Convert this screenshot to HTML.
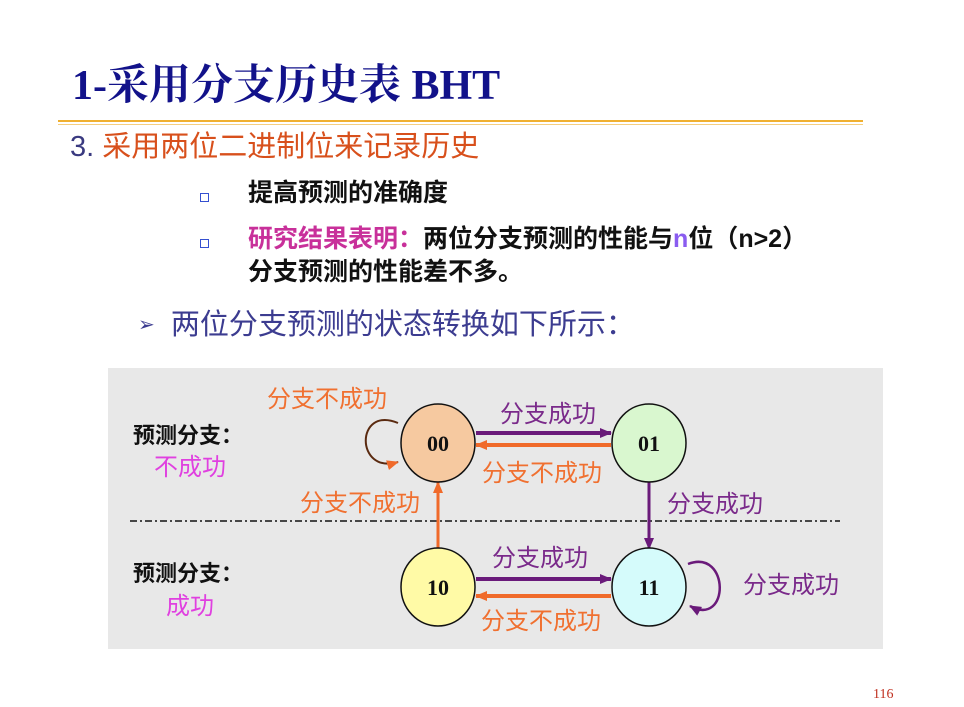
<!DOCTYPE html>
<html><head><meta charset="utf-8"><style>
body{margin:0;width:964px;height:707px;background:#fff;position:relative;overflow:hidden;font-family:"Liberation Sans","Noto Sans CJK SC",sans-serif}
.a{position:absolute;white-space:nowrap;line-height:1}
.t{left:72px;top:52px;font:bold 42px "Liberation Serif","Noto Serif CJK SC",serif;color:#12128a}
.sq{display:inline-block;width:7px;height:7px;border:1.5px solid #3550d0;}
</style></head><body>
<div class="a t">1-采用分支历史表 BHT</div>
<div class="a" style="left:58px;top:120px;width:805px;height:2px;background:#f0b030"></div>
<div class="a" style="left:58px;top:124px;width:805px;height:1px;background:#f5cf80"></div>
<div class="a" style="left:70px;top:133px;font-size:29px;color:#d8501c"><span style="color:#3a3a80">3.</span> 采用两位二进制位来记录历史</div>
<div class="a" style="left:200px;top:190px"><span class="sq"></span></div>
<div class="a" style="left:248px;top:181px;font-size:25px;font-weight:bold;color:#111">提高预测的准确度</div>
<div class="a" style="left:200px;top:236px"><span class="sq"></span></div>
<div class="a" style="left:248px;top:227px;font-size:25px;font-weight:bold;color:#111"><span style="color:#c8309a">研究结果表明：</span>两位分支预测的性能与<span style="color:#8a5cf0">n</span>位（n&gt;2）</div>
<div class="a" style="left:248px;top:260px;font-size:25px;font-weight:bold;color:#111">分支预测的性能差不多。</div>
<div class="a" style="left:138px;top:311px;font-size:29px;color:#3c3c90"><span style="font-size:20px;position:relative;top:-3px">➢</span>&nbsp; 两位分支预测的状态转换如下所示：</div>
<svg class="a" style="left:0;top:0" width="964" height="707">
<defs>
<marker id="p" markerWidth="12" markerHeight="10" refX="11" refY="5" orient="auto" markerUnits="userSpaceOnUse"><path d="M0,0L12,5L0,10z" fill="#6a1a7a"/></marker>
<marker id="o" markerWidth="12" markerHeight="10" refX="11" refY="5" orient="auto" markerUnits="userSpaceOnUse"><path d="M0,0L12,5L0,10z" fill="#f06a2a"/></marker>
</defs>
<rect x="108" y="368" width="775" height="281" fill="#e8e8e8"/>
<line x1="130" y1="521" x2="840" y2="521" stroke="#111" stroke-width="1.5" stroke-dasharray="7,3,2,3"/>
<g stroke="#6a1a7a" stroke-width="4" fill="none">
<line x1="476" y1="433" x2="611" y2="433" marker-end="url(#p)"/>
<line x1="476" y1="579" x2="611" y2="579" marker-end="url(#p)"/>
<line x1="649" y1="482" x2="649" y2="549" stroke-width="3" marker-end="url(#p)"/>
<path d="M688,564 C730,548 730,628 690,606" stroke-width="2.5" marker-end="url(#p)"/>
</g>
<g stroke="#f06a2a" stroke-width="4" fill="none">
<line x1="611" y1="445" x2="476" y2="445" marker-end="url(#o)"/>
<line x1="611" y1="596" x2="476" y2="596" marker-end="url(#o)"/>
<line x1="438" y1="549" x2="438" y2="482" stroke-width="3" marker-end="url(#o)"/>
</g>
<path d="M398,423 C355,405 355,475 398,462" stroke="#5a2a10" stroke-width="2" fill="none" marker-end="url(#o)"/>
<g stroke="#111" stroke-width="1.5">
<ellipse cx="438" cy="443" rx="37" ry="39" fill="#f6c9a0"/>
<ellipse cx="649" cy="443" rx="37" ry="39" fill="#d9f7cf"/>
<ellipse cx="438" cy="587" rx="37" ry="39" fill="#fffaa6"/>
<ellipse cx="649" cy="587" rx="37" ry="39" fill="#d5fbfb"/>
</g>
<g font-family="Liberation Serif,serif" font-weight="bold" font-size="22" text-anchor="middle" fill="#111">
<text x="438" y="451">00</text><text x="649" y="451">01</text><text x="438" y="595">10</text><text x="649" y="595">11</text>
</g>
<g font-family="Liberation Sans,Noto Sans CJK SC,sans-serif" font-size="24">
<text x="267" y="407" fill="#f07030">分支不成功</text>
<text x="500" y="422" fill="#7a2a8a">分支成功</text>
<text x="482" y="481" fill="#f07030">分支不成功</text>
<text x="300" y="511" fill="#f07030">分支不成功</text>
<text x="667" y="512" fill="#7a2a8a">分支成功</text>
<text x="492" y="566" fill="#7a2a8a">分支成功</text>
<text x="481" y="629" fill="#f07030">分支不成功</text>
<text x="743" y="593" fill="#7a2a8a">分支成功</text>
<text x="133" y="443" fill="#111" font-weight="bold" font-size="22">预测分支：</text>
<text x="154" y="475" fill="#e040e0">不成功</text>
<text x="133" y="581" fill="#111" font-weight="bold" font-size="22">预测分支：</text>
<text x="166" y="614" fill="#e040e0">成功</text>
</g>
<text x="873" y="698" font-family="Liberation Serif,serif" font-size="14" fill="#c03020">116</text>
</svg>
</body></html>
